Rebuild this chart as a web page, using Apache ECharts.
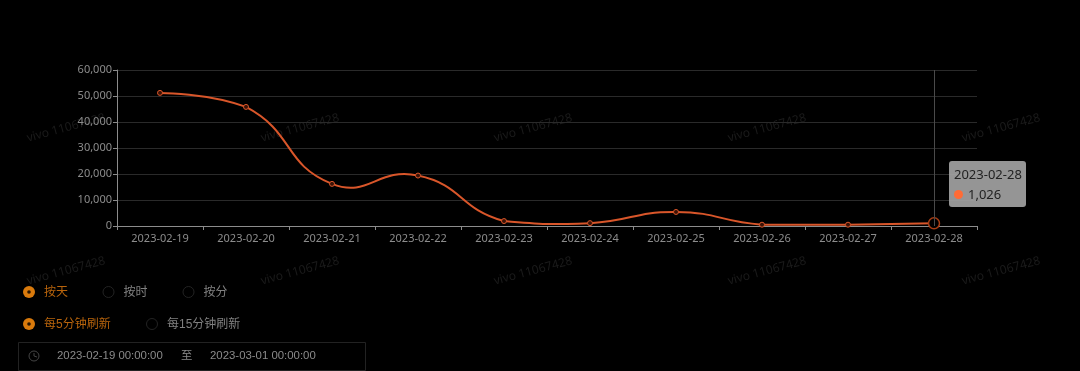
<!DOCTYPE html>
<html><head><meta charset="utf-8">
<style>html,body{margin:0;padding:0;background:#000;overflow:hidden}#c{width:1080px;height:371px}</style>
<script src="https://cdn.jsdelivr.net/npm/echarts@6/dist/echarts.min.js"></script>
</head><body><div id="c"></div>
<script>
const categories=['2023-02-19','2023-02-20','2023-02-21','2023-02-22','2023-02-23','2023-02-24','2023-02-25','2023-02-26','2023-02-27','2023-02-28'];
const values=[51200,45800,16200,19400,1900,1100,5400,500,500,1026];
const watermarkText='vivo 11067428';
const watermarkX=[66,300,533,767,1001];
const watermarkY=[128,271];
const granularity=[['按天',29,true],['按时',108.5,false],['按分',188.5,false]];
const refresh=[['每5分钟刷新',29,true],['每15分钟刷新',152,false]];
const rangeStart='2023-02-19 00:00:00',rangeEnd='2023-03-01 00:00:00',rangeTo='至';
const LAT='"Noto Sans","Noto Sans CJK SC",sans-serif',CJK='"Liberation Sans","Noto Sans CJK SC",sans-serif';
const SMOOTH=0.5,last=categories.length-1;
const graphics=[];
watermarkY.forEach(y=>watermarkX.forEach(x=>graphics.push({type:'text',x,y,rotation:15*Math.PI/180,silent:true,z:0,
  style:{text:watermarkText,fill:'#1b1b1b',font:'12px '+LAT,align:'center',verticalAlign:'middle'}})));
function radio(item,y){
  const [label,x,on]=item;
  graphics.push({type:'circle',shape:{cx:x,cy:y,r:on?6:5.5},style:on?{fill:'#d97a0c'}:{fill:'#000',stroke:'#232323',lineWidth:1}});
  if(on)graphics.push({type:'circle',shape:{cx:x,cy:y,r:1.8},style:{fill:'#2a1600'}});
  graphics.push({type:'text',x:x+15,y:y+1,style:{text:label,fill:on?'#b8640c':'#808080',font:'12px '+CJK,verticalAlign:'middle'}});
}
granularity.forEach(i=>radio(i,292));
refresh.forEach(i=>radio(i,324));
graphics.push({type:'rect',shape:{x:18.5,y:342.5,width:347,height:28},style:{fill:'none',stroke:'#222',lineWidth:1}});
graphics.push({type:'circle',shape:{cx:34,cy:356,r:5},style:{fill:'none',stroke:'#444',lineWidth:1}});
graphics.push({type:'polyline',shape:{points:[[34,353],[34,356],[37,357]]},style:{fill:'none',stroke:'#444',lineWidth:1}});
[[rangeStart,57],[rangeTo,181],[rangeEnd,210]].forEach(([t,x])=>graphics.push({type:'text',x,y:356,style:{text:t,fill:'#8a8a8a',font:'11.4px '+CJK,verticalAlign:'middle'}}));
// Smooth segment between neighbouring data points: tangents come from the scale-mapped neighbours,
// control points stay inside the data's vertical extent, and the two ends have no tangent.
function renderCurve(params,api){
  const i=params.dataIndex;
  if(i>=last)return null;
  const P=k=>api.coord([k,values[k]]);
  const top=api.coord([0,Math.max(...values)])[1],bottom=api.coord([0,Math.min(...values)])[1];
  const ctrl=(k,sign)=>{
    const p=P(k);
    if(k===0||k===last)return p;
    const a=P(k-1),b=P(k+1),vx=b[0]-a[0],vy=b[1]-a[1];
    const la=Math.hypot(p[0]-a[0],p[1]-a[1]),lb=Math.hypot(p[0]-b[0],p[1]-b[1]);
    const r=sign>0?lb/(la+lb):la/(la+lb);
    return [p[0]+sign*vx*SMOOTH*r,Math.min(bottom,Math.max(top,p[1]+sign*vy*SMOOTH*r))];
  };
  const p0=P(i),p1=P(i+1),c0=ctrl(i,1),c1=ctrl(i+1,-1);
  return {type:'bezierCurve',silent:true,
    shape:{x1:p0[0],y1:p0[1],x2:p1[0],y2:p1[1],cpx1:c0[0],cpy1:c0[1],cpx2:c1[0],cpy2:c1[1]},
    style:{fill:null,stroke:'#d9562a',lineWidth:2}};
}
const chart=echarts.init(document.getElementById('c'));
chart.setOption({
  backgroundColor:'#000',animation:false,
  grid:{left:117,right:103,top:70,bottom:145},
  tooltip:{trigger:'axis',alwaysShowContent:true,transitionDuration:0,
    axisPointer:{type:'line',lineStyle:{color:'#4a4a4a',width:1,type:'solid'}},
    backgroundColor:'rgba(165,165,165,0.9)',borderWidth:0,padding:[3,4,3,5],extraCssText:'border-radius:3px;box-shadow:none;line-height:20px;',
    textStyle:{color:'#222',fontSize:13,fontFamily:LAT},
    position:()=>[949,161],
    formatter:p=>{const s=p.find(x=>x.seriesType==='line');return `${s.name}<br><span style="display:inline-block;width:9px;height:9px;border-radius:50%;background:#ff6b35;margin:0 5px 0 0"></span>${s.value.toLocaleString('en-US')}`;}},
  xAxis:{type:'category',data:categories,boundaryGap:true,
    axisLine:{lineStyle:{color:'#8c8c8c',width:1}},axisTick:{show:true,alignWithLabel:false,length:4,lineStyle:{color:'#8c8c8c'}},
    axisLabel:{color:'#8c8c8c',fontSize:11,fontFamily:LAT,margin:7,interval:0},splitLine:{show:false}},
  yAxis:{type:'value',min:0,max:60000,interval:10000,
    axisLine:{show:true,lineStyle:{color:'#8c8c8c',width:1}},axisTick:{show:true,length:4,lineStyle:{color:'#8c8c8c'}},
    axisLabel:{color:'#8c8c8c',fontSize:11,fontFamily:LAT,margin:5,formatter:v=>v.toLocaleString('en-US')},
    splitLine:{show:true,lineStyle:{color:'#2a2a2a',width:1}}},
  series:[
   {type:'custom',coordinateSystem:'cartesian2d',renderItem:renderCurve,data:values.map((v,i)=>[i,v]),silent:true,z:2,tooltip:{show:false}},
   {type:'line',z:3,data:values.map((v,i)=>i===last?{value:v,symbolSize:10,itemStyle:{color:'#000',borderColor:'#a83d14',borderWidth:1.5}}:v),
    symbol:'circle',symbolSize:5,showSymbol:true,showAllSymbol:true,
    lineStyle:{width:0,opacity:0},itemStyle:{color:'#3a1206',borderColor:'#d9562a',borderWidth:1},
    emphasis:{disabled:true}}],
  graphic:graphics
});
chart.dispatchAction({type:'showTip',seriesIndex:1,dataIndex:last});
</script></body></html>
